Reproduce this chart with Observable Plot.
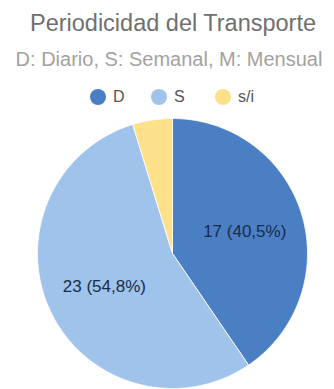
<!DOCTYPE html>
<html>
<head>
<meta charset="utf-8">
<script src="https://cdn.jsdelivr.net/npm/d3@7"></script>
<script src="https://cdn.jsdelivr.net/npm/@observablehq/plot@0.6"></script>
<style>
  html, body { margin: 0; padding: 0; background: #fff; }
  #wrap { position: relative; width: 334px; height: 389px; overflow: hidden; font-family: "Liberation Sans", Arial, sans-serif; }
  .title { position: absolute; left: 0; width: 346px; text-align: center; top: 8px; font-size: 23.5px; line-height: 30px; color: #707070; }
  .subtitle { position: absolute; left: 0; width: 338px; text-align: center; top: 47px; font-size: 20px; line-height: 24px; color: #a2a2a2; white-space: nowrap; }
  .legend { position: absolute; top: 86px; left: 0; width: 334px; height: 22px; }
  .item { position: absolute; top: 0; height: 22px; display: flex; align-items: center; font-size: 16px; color: #555; }
  .dot { width: 16px; height: 16px; border-radius: 50%; margin-right: 7px; }
  #chart { position: absolute; left: 0; top: 110px; }
</style>
</head>
<body>
<div id="wrap">
  <div class="title">Periodicidad del Transporte</div>
  <div class="subtitle">D: Diario, S: Semanal, M: Mensual</div>
  <div class="legend" id="legend"></div>
  <div id="chart"></div>
</div>
<script>
const categories = ["D", "S", "s/i"];
const values = [17, 23, 2];
const colors = ["#4a7fc4", "#9fc3ea", "#fde08a"];
const showLabel = [true, true, false];

const total = d3.sum(values);
const fmt = v => (Math.round(v * 1000) / 10).toFixed(1).replace(".", ",");

// legend
const legendX = [90, 151, 215];
const legend = document.getElementById("legend");
categories.forEach((c, i) => {
  const it = document.createElement("div");
  it.className = "item";
  it.style.left = legendX[i] + "px";
  const dot = document.createElement("span");
  dot.className = "dot";
  dot.style.background = colors[i];
  it.appendChild(dot);
  it.appendChild(document.createTextNode(c));
  legend.appendChild(it);
});

// pie geometry from d3.pie
const arcs = d3.pie().sort(null).value(d => d.value)(categories.map((c, i) => ({key: c, value: values[i]})));
const poly = [];
arcs.forEach(a => {
  poly.push({key: a.data.key, x: 0, y: 0});
  const n = Math.max(2, Math.ceil((a.endAngle - a.startAngle) / (Math.PI / 180)));
  for (let k = 0; k <= n; k++) {
    const t = a.startAngle + (a.endAngle - a.startAngle) * k / n;
    poly.push({key: a.data.key, x: Math.sin(t), y: Math.cos(t)});
  }
  poly.push({key: a.data.key, x: 0, y: 0});
});
const labels = arcs.filter((a, i) => showLabel[i]).map(a => {
  const m = (a.startAngle + a.endAngle) / 2;
  return {x: 0.56 * Math.sin(m), y: 0.56 * Math.cos(m), text: `${a.data.value} (${fmt(a.data.value / total)}%)`};
});

const cx = 172, cy = 143, r = 135;
const chart = Plot.plot({
  width: 334,
  height: 279,
  margin: 0,
  x: {domain: [-1, 1], range: [cx - r, cx + r], axis: null},
  y: {domain: [-1, 1], range: [cy + r, cy - r], axis: null},
  color: {domain: categories, range: colors},
  style: {fontFamily: "Liberation Sans, Arial, sans-serif", background: "transparent"},
  marks: [
    Plot.line(poly, {x: "x", y: "y", z: "key", fill: "key", stroke: "#ffffff", strokeWidth: 0.8, strokeLinejoin: "round"}),
    Plot.text(labels, {x: "x", y: "y", text: "text", fill: "#1b2c48", fontSize: 17})
  ]
});
document.getElementById("chart").appendChild(chart);
</script>
</body>
</html>
